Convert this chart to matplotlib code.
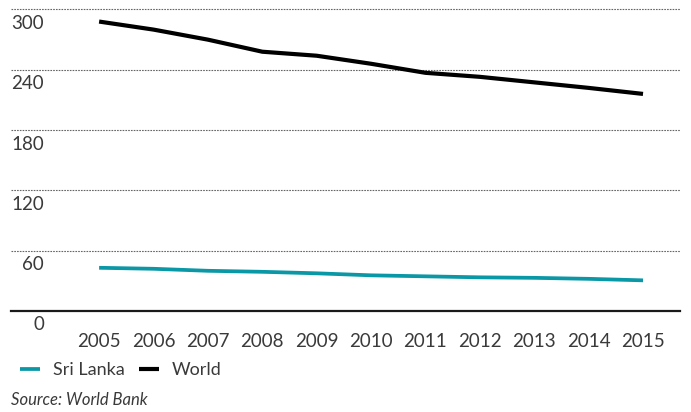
import matplotlib
matplotlib.use("Agg")
import matplotlib.pyplot as plt
from matplotlib.transforms import ScaledTranslation

plt.rcParams['font.family'] = ['Lato', 'DejaVu Sans']

years = [2005, 2006, 2007, 2008, 2009, 2010, 2011, 2012, 2013, 2014, 2015]
sri_lanka = [43, 42, 40, 39, 37.5, 35.5, 34.5, 33.5, 33, 32, 30.5]
world = [288, 280, 270, 258, 254, 246, 237, 233, 227.5, 222, 216]
y_ticks = [0, 60, 120, 180, 240, 300]
source_note = "Source: World Bank"

TEXT = "#3a3a3a"
TEAL = "#0a97a6"
FS = 13.5

W, H = 691, 412
fig = plt.figure(figsize=(W / 100, H / 100), dpi=100)
ax = fig.add_axes([11 / W, (H - 311) / H, (680 - 11) / W, (311 - 9.5) / H])

ax.plot(years, sri_lanka, color=TEAL, lw=2.7, solid_capstyle='butt', label="Sri Lanka")
ax.plot(years, world, color="#000000", lw=3.0, solid_capstyle='butt', label="World")

ax.set_xlim(2003.38, 2015.68)
ax.set_ylim(0, 300)

for s in ax.spines.values():
    s.set_visible(False)

# dotted gridlines and a solid baseline
for v in y_ticks[1:]:
    ax.axhline(v, color="#666666", lw=0.8, ls=(0, (1.5, 1.0)), zorder=0, clip_on=False)
ax.axhline(0, color="#1a1a1a", lw=1.6, zorder=1, clip_on=False)

# value labels sit just below each gridline, right-aligned
off = ScaledTranslation(0, -14 / 100, fig.dpi_scale_trans)
label_tf = ax.get_yaxis_transform() + off
for v in y_ticks:
    ax.text(33 / 669, v, str(v), transform=label_tf,
            ha='right', va='center', fontsize=FS, color=TEXT, clip_on=False)

ax.set_yticks([])
ax.set_xticks(years)
ax.set_xticklabels([str(y) for y in years], fontsize=FS, color=TEXT)
ax.tick_params(axis='x', length=0, pad=16)

fig.legend(loc='center left', bbox_to_anchor=(4 / W, 1 - 370 / H), ncol=2,
           frameon=False, fontsize=13, handlelength=1.1, handletextpad=0.7,
           columnspacing=0.8, labelcolor=TEXT)

fig.text(11 / W, 1 - 400 / H, source_note, fontsize=12, style='italic',
         color=TEXT, ha='left', va='center')

fig.savefig("out.png", dpi=100)
